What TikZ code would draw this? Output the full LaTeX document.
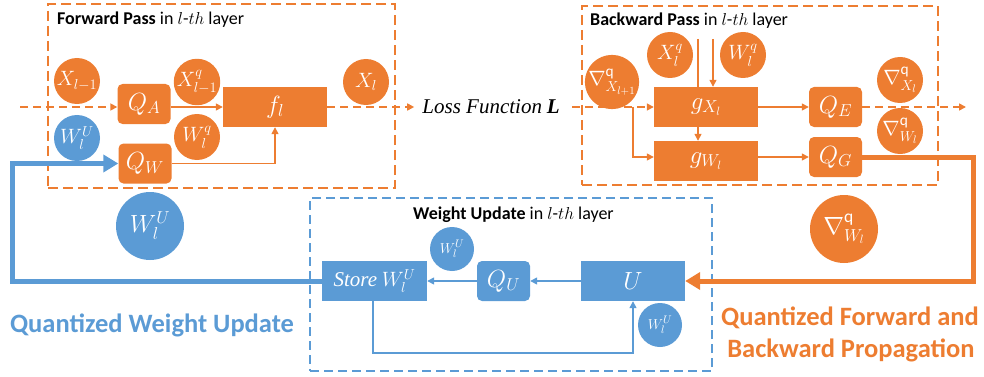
\documentclass[tikz,border=0pt]{standalone}
\usepackage{fontspec}
\setmainfont{Carlito}
\newfontfamily\serifit{Liberation Serif}
\usepackage{amsmath,bm}
\usetikzlibrary{arrows.meta}
\definecolor{org}{HTML}{ED7D31}
\definecolor{blu}{HTML}{5B9BD5}
\begin{document}
\begin{tikzpicture}[x=1pt,y=-1pt,
  ocirc/.style={circle, fill=org, minimum size=46pt, inner sep=0pt, text=white, font=\fontsize{22}{22}\selectfont},
  bcirc/.style={circle, fill=blu, minimum size=46pt, inner sep=0pt, text=white, font=\fontsize{22}{22}\selectfont},
  scirc/.style={circle, fill=blu, minimum size=44pt, inner sep=0pt, text=white, font=\fontsize{15}{15}\selectfont},
  obig/.style={circle, fill=org, minimum size=68pt, inner sep=0pt, text=white, font=\fontsize{25}{25}\selectfont},
  bbig/.style={circle, fill=blu, minimum size=68pt, inner sep=0pt, text=white, font=\fontsize{25}{25}\selectfont},
  orbox/.style={rounded corners=5pt, fill=org, text=white, minimum width=53pt, minimum height=40pt, inner sep=0pt, font=\fontsize{24}{24}\selectfont},
  brbox/.style={rounded corners=5pt, fill=blu, text=white, minimum width=53pt, minimum height=40pt, inner sep=0pt, font=\fontsize{24}{24}\selectfont},
  orect/.style={fill=org, text=white, minimum width=104pt, minimum height=40pt, inner sep=0pt, font=\fontsize{24}{24}\selectfont},
  brect/.style={fill=blu, text=white, minimum width=104pt, minimum height=40pt, inner sep=0pt, font=\fontsize{24}{24}\selectfont},
  ocont/.style={draw=org, line width=2pt, dash pattern=on 10pt off 5pt, inner sep=0pt},
  bcont/.style={draw=blu, line width=1.6pt, dash pattern=on 9pt off 5pt, inner sep=0pt},
  title/.style={anchor=west, inner sep=0pt, font=\fontsize{18}{18}\selectfont},
  oarr/.style={draw=org, line width=1.4pt, -{Triangle[length=7pt,width=7pt]}},
  oline/.style={draw=org, line width=1.4pt},
  odash/.style={draw=org, line width=1.6pt, dash pattern=on 8pt off 5pt, -{Triangle[length=7pt,width=7pt]}},
  barr/.style={draw=blu, line width=1.4pt, -{Triangle[length=7pt,width=7pt]}},
  othick/.style={draw=org, line width=5pt, -{Triangle[length=15pt,width=17pt]}},
  bthick/.style={draw=blu, line width=5pt, -{Triangle[length=15pt,width=17pt]}},
  big/.style={inner sep=0pt, font=\fontsize{26.5}{26.5}\selectfont\bfseries}
]
\useasboundingbox (0,0) rectangle (984,377);

% containers
\node[ocont, minimum width=347pt, minimum height=184pt] (fwd) at (221.5,96) {};
\node[ocont, minimum width=356pt, minimum height=179pt] (bwd) at (760,95.5) {};
\node[bcont, minimum width=402pt, minimum height=173pt] (wup) at (511,284.5) {};

\node[title] (tf) at (57,20) {\textbf{Forward Pass} in $l$-$th$ layer};
\node[title] (tb) at (590,21) {\textbf{Backward Pass} in $l$-$th$ layer};
\node[title] (tw) at (413,215) {\textbf{Weight Update} in $l$-$th$ layer};

% forward
\node[ocirc] (xl1) at (77,81) {$X_{l-1}$};
\node[orbox] (qa) at (144,104) {$Q_A$};
\node[ocirc] (xq) at (197,82) {$X^{q}_{l-1}$};
\node[orect] (f) at (275,107) {$f_l$};
\node[ocirc] (xl) at (366,82) {$X_l$};
\node[bcirc] (wu1) at (77,138) {$W_l^{U}$};
\node[orbox] (qw) at (145,163.5) {$Q_W$};
\node[ocirc] (wq) at (197,137) {$W_l^{q}$};

\coordinate (in) at (20,107);
\draw[odash] (in) -- (in -| qa.west);
\draw[oarr] (qa.east |- f.west) -- (f.west);
\draw[oarr] (qw.east) -| (f.south);

\node[inner sep=0pt, font=\fontsize{21}{21}\selectfont] (loss) at (491,107) {{\serifit\itshape Loss Function} {\serifit\bfseries\itshape L}};
\draw[odash] (f.east) -- ([xshift=-8pt]loss.west);

% backward
\node[ocirc] (xlq) at (670,55) {$X_l^{q}$};
\node[ocirc] (wlq) at (743,55) {$W_l^{q}$};
\node[ocirc] (nx1) at (612,82) {$\nabla^{\mathrm{q}}_{X_{l+1}}$};
\node[orect] (gx) at (706,107) {$g_{X_l}$};
\node[orect] (gw) at (706,161) {$g_{W_l}$};
\node[orbox] (qe) at (835.5,107) {$Q_E$};
\node[orbox] (qg) at (835.5,157) {$Q_G$};
\node[ocirc] (nxl) at (900,80) {$\nabla^{\mathrm{q}}_{X_l}$};
\node[ocirc] (nwl) at (900,131) {$\nabla^{\mathrm{q}}_{W_l}$};

\coordinate (t1) at (698,39);
\coordinate (t2) at (713,39);
\coordinate (br) at (633,107);
\coordinate (out) at (966,107);
\coordinate (lo) at (572,107);
\draw[odash] (lo) -- (gx.west);
\draw[oline] (t1) -- (t1 |- gx.north);
\draw[oarr] (t2) -- (t2 |- gx.north);
\draw[oarr] (gx.south -| t1) -- (gw.north -| t1);
\draw[oarr] (br) |- (gw.west |- qg.west);
\draw[oarr] (gx.east) -- (qe.west);
\draw[oarr] (gw.east |- qg.west) -- (qg.west);
\draw[odash] (qe.east) -- (out);

% weight update
\node[scirc] (wu2) at (452,249) {$W_l^{U}$};
\node[brect, minimum width=105pt, font=\fontsize{21}{21}\selectfont] (st) at (374.5,281) {{\serifit\itshape Store} $W_l^{U}$};
\node[brbox] (qu) at (503.5,281) {$Q_U$};
\node[brect] (u) at (633,281) {$U$};
\node[scirc] (wu3) at (660,325) {$W_l^{U}$};
\coordinate (c2) at (373,353);
\draw[barr] (u.west) -- (qu.east);
\draw[barr] (qu.west) -- (st.east);
\draw[barr] (c2 |- st.south) -- (c2) -| (u.south);

% thick loops
\coordinate (c1) at (973,220);
\coordinate (c3) at (12,220);
\draw[othick] (qg.east) -| (c1) |- (u.east);
\draw[bthick] (st.west) -| (c3) |- (qw.west);

\node[obig] (nbig) at (844,229) {$\nabla^{\mathrm{q}}_{W_l}$};
\node[bbig] (wbig) at (150,226) {$W_l^{U}$};

\node[big, text=blu] (lqw) at (152,325) {Quantized Weight Update};
\node[big, text=org] (lqf1) at (850,318) {Quantized Forward and};
\node[big, text=org] (lqf2) at (851,350) {Backward Propagation};
\end{tikzpicture}
\end{document}
